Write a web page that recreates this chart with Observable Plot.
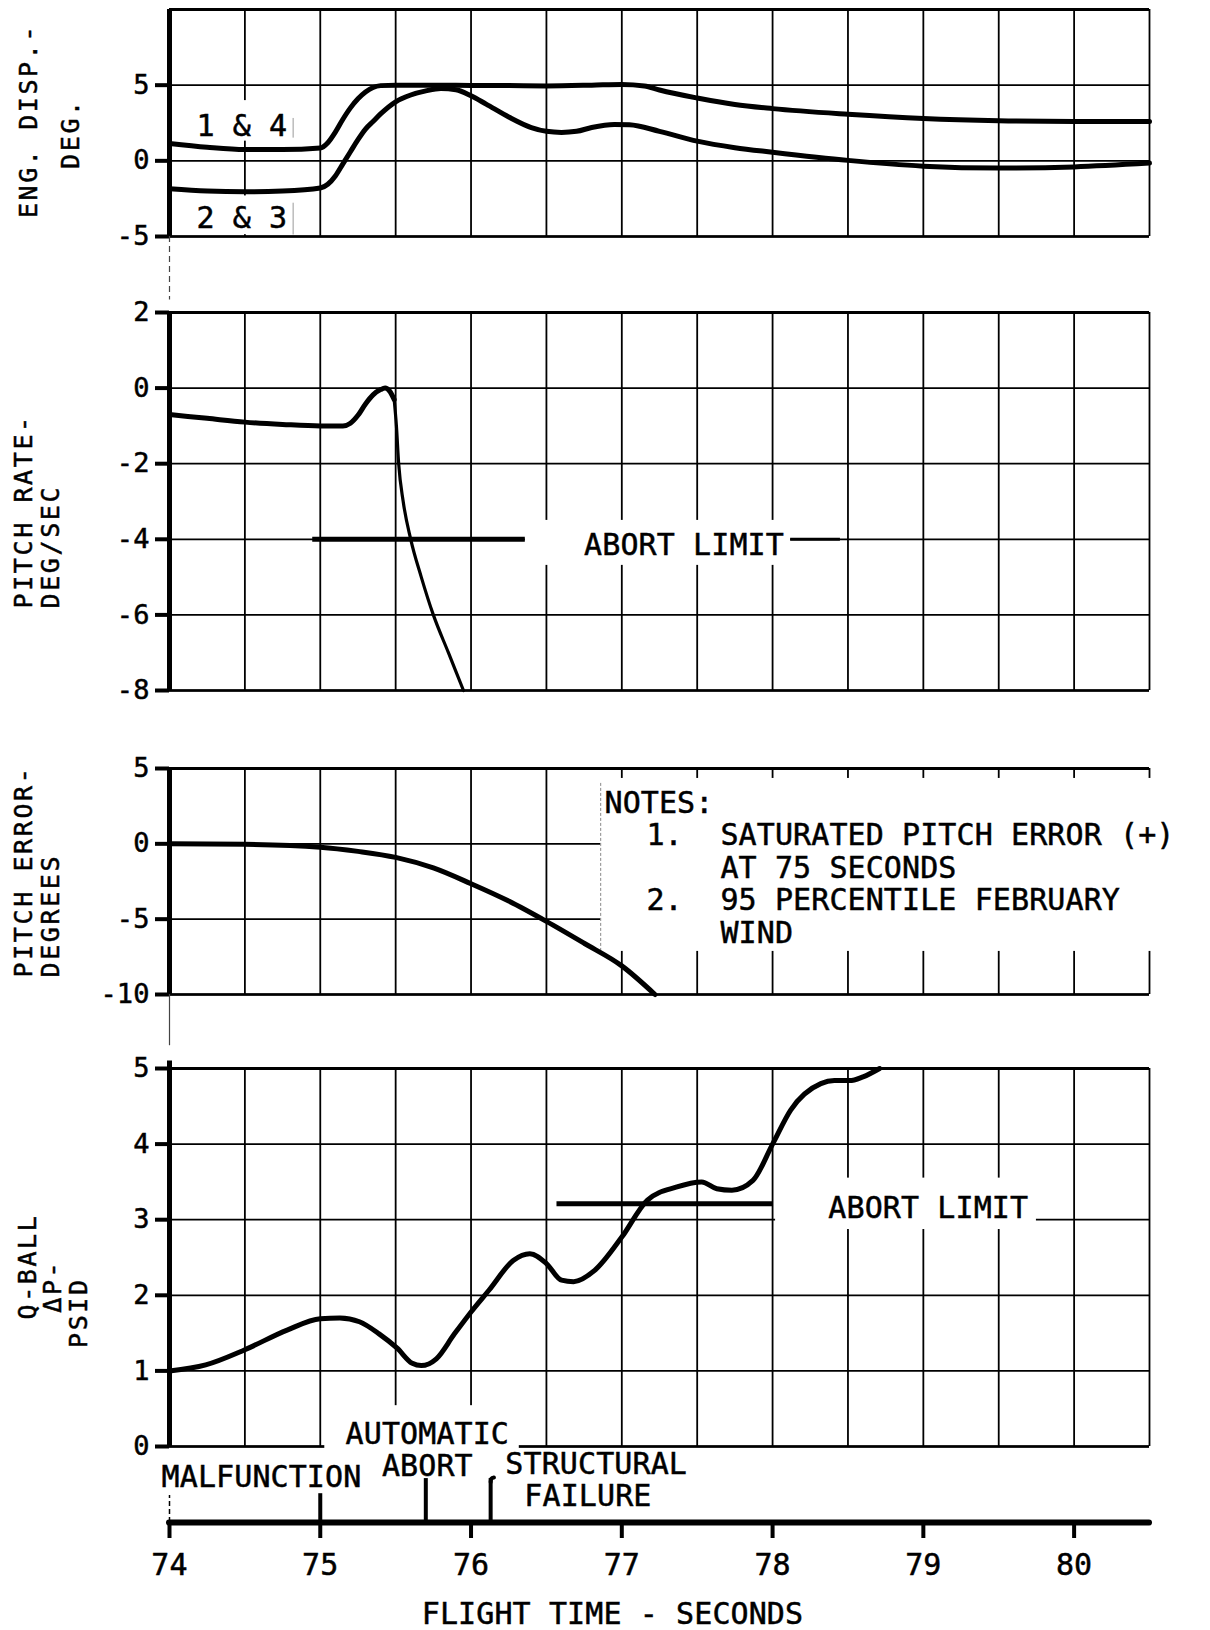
<!DOCTYPE html>
<html>
<head>
<meta charset="utf-8">
<title>Malfunction time history</title>
<script src="https://cdn.jsdelivr.net/npm/d3@7"></script>
<script src="https://cdn.jsdelivr.net/npm/@observablehq/plot@0.6"></script>
<style>
  html, body { margin: 0; padding: 0; background: #fff; }
  #chart { position: relative; width: 1210px; height: 1630px; background: #fff; overflow: hidden; }
  #chart svg { position: absolute; left: 0; max-width: none; }
  #chart text { stroke: #000; stroke-width: 0.5px; }
</style>
</head>
<body>
<div id="chart"></div>
<script>
// ---------------- shared time axis ----------------
const timeGrid = [74, 74.5, 75, 75.5, 76, 76.5, 77, 77.5, 78, 78.5, 79, 79.5, 80, 80.5];
const timeTicks = [74, 75, 76, 77, 78, 79, 80];
const timeTitle = "FLIGHT TIME - SECONDS";

// ---------------- panel 1: engine displacement ----------------
const engTitle = ["ENG. DISP.-", "DEG."];
const engTicks = [5, 0, -5];
const engGrid = [10, 5, 0, -5];
const eng14Time = [74.0, 74.25, 74.5, 74.75, 75.0, 75.05, 75.1, 75.15, 75.2, 75.25, 75.3, 75.35, 75.4, 75.5, 75.75, 76.0, 76.25, 76.5, 76.8, 77.0, 77.15, 77.25, 77.5, 77.75, 78.0, 78.5, 79.0, 79.5, 80.0, 80.5];
const eng14Deg  = [1.15, 0.9, 0.75, 0.75, 0.85, 1.2, 1.9, 2.75, 3.5, 4.1, 4.55, 4.85, 4.97, 5.0, 5.0, 4.98, 4.97, 4.95, 5.0, 5.05, 4.95, 4.68, 4.15, 3.72, 3.45, 3.08, 2.8, 2.65, 2.6, 2.6];
const eng23Time = [74.0, 74.25, 74.5, 74.75, 75.0, 75.05, 75.1, 75.15, 75.2, 75.25, 75.3, 75.35, 75.4, 75.5, 75.6, 75.7, 75.8, 75.9, 76.0, 76.1, 76.25, 76.4, 76.5, 76.6, 76.7, 76.8, 76.95, 77.05, 77.25, 77.5, 77.75, 78.0, 78.5, 79.0, 79.5, 80.0, 80.5];
const eng23Deg  = [-1.85, -2.0, -2.05, -2.0, -1.8, -1.55, -1.0, -0.2, 0.6, 1.4, 2.1, 2.6, 3.1, 3.9, 4.35, 4.62, 4.78, 4.7, 4.3, 3.75, 2.9, 2.2, 1.95, 1.88, 1.95, 2.2, 2.4, 2.38, 1.95, 1.3, 0.87, 0.57, 0.03, -0.35, -0.48, -0.4, -0.15];
const engSeriesNames = ["1 & 4", "2 & 3"];

// ---------------- panel 2: pitch rate ----------------
const rateTitle = ["PITCH RATE-", "DEG/SEC"];
const rateTicks = [2, 0, -2, -4, -6, -8];
const rateTime = [74.0, 74.25, 74.5, 74.75, 75.0, 75.15, 75.2, 75.25, 75.3, 75.35, 75.4, 75.43, 75.46, 75.49, 75.505, 75.52, 75.55, 75.6, 75.67, 75.75, 75.85, 75.95];
const rateDeg  = [-0.7, -0.8, -0.9, -0.96, -1.0, -1.0, -0.93, -0.72, -0.42, -0.18, -0.04, 0.0, -0.08, -0.3, -1.0, -2.0, -3.0, -4.0, -5.0, -6.0, -7.0, -8.0];
const rateAbortLimit = -4;
const rateAbortFrom = 74.95;
const rateAbortTo = 76.36;
const abortLabel = "ABORT LIMIT";

// ---------------- panel 3: pitch error ----------------
const errTitle = ["PITCH ERROR-", "DEGREES"];
const errTicks = [5, 0, -5, -10];
const errTime = [74.0, 74.5, 75.0, 75.25, 75.5, 75.75, 76.0, 76.25, 76.5, 76.75, 77.0, 77.22];
const errDeg  = [0.0, -0.03, -0.22, -0.5, -0.9, -1.6, -2.65, -3.8, -5.15, -6.6, -8.1, -10.0];
const notesHead = "NOTES:";
const noteNumbers = ["1.", "2."];
const noteLines = ["SATURATED PITCH ERROR (+)", "AT 75 SECONDS", "95 PERCENTILE FEBRUARY", "WIND"];

// ---------------- panel 4: Q-ball delta P ----------------
const qTitle = ["Q-BALL", "ΔP-", "PSID"];
const qTicks = [5, 4, 3, 2, 1, 0];
const qTime = [74.0, 74.24, 74.5, 74.78, 75.0, 75.13, 75.26, 75.39, 75.51, 75.61, 75.67, 75.77, 75.89, 76.0, 76.12, 76.28, 76.39, 76.5, 76.6, 76.68, 76.82, 77.0, 77.17, 77.36, 77.53, 77.63, 77.73, 77.87, 78.0, 78.12, 78.32, 78.41, 78.51, 78.6, 78.71];
const qPsid = [1.0, 1.08, 1.28, 1.54, 1.69, 1.70, 1.65, 1.49, 1.30, 1.10, 1.07, 1.16, 1.49, 1.78, 2.07, 2.46, 2.55, 2.42, 2.2, 2.18, 2.33, 2.77, 3.26, 3.43, 3.5, 3.41, 3.39, 3.52, 4.0, 4.45, 4.8, 4.84, 4.84, 4.89, 5.0];
const qAbortLimit = 3.21;
const qAbortFrom = 76.57;
const qAbortTo = 78.0;

// ---------------- events ----------------
const eventNames = [["MALFUNCTION"], ["AUTOMATIC", "ABORT"], ["STRUCTURAL", "FAILURE"]];
const eventTime = [75.0, 75.70, 76.13];

// ================= drawing =================
const chart = document.getElementById("chart");
const FONT = "'DejaVu Sans Mono', monospace";
const X = {domain: [74, 80.5], axis: null};
const base = {width: 1210, marginLeft: 169, marginRight: 61};
const sty = (fs) => ({fontFamily: FONT, fontSize: fs + "px", background: "transparent", color: "black", overflow: "visible"});
const rows = (xs, ys) => xs.map((t, i) => ({t, v: ys[i]}));
const GRID = 1.8, CURVE = 5;
const fmt = d => String(d);

function gridMarks(yGrid, yTop, yBottom) {
  return [
    Plot.ruleX(timeGrid, {y1: yBottom, y2: yTop, stroke: "black", strokeWidth: GRID}),
    Plot.ruleY(yGrid, {stroke: "black", strokeWidth: GRID}),
    Plot.ruleY([yTop], {stroke: "black", strokeWidth: 3}),
    Plot.ruleY([yBottom], {stroke: "black", strokeWidth: 2.6})
  ];
}
function leftAxis(ticks, yTop, yBottom) {
  return [
    Plot.ruleX([74], {y1: yBottom, y2: yTop, stroke: "black", strokeWidth: 5}),
    Plot.axisY({ticks, tickSize: 14, tickPadding: 6, strokeWidth: 4, tickFormat: fmt, label: null, fontSize: 27})
  ];
}
function title(text, y, dx, anchor) {
  return Plot.text([text], {text: d => d, y, frameAnchor: "left", dx, rotate: -90, fontSize: 25, textAnchor: anchor || "middle", fill: "black"});
}
function place(svg, top) {
  svg.style.top = top + "px";
  chart.appendChild(svg);
  d3.select(svg).selectAll("text").each(function () {
    const own = this.getAttribute("transform") || "";
    const par = (this.parentNode && this.parentNode.getAttribute && this.parentNode.getAttribute("transform")) || "";
    this.setAttribute("letter-spacing", (own + par).includes("rotate") ? "2.6" : "0.1");
  });
  return svg;
}

// ---- panel 1
const p1 = Plot.plot({
  ...base, height: 245, marginTop: 9, marginBottom: 9, style: sty(27),
  x: X, y: {domain: [-5, 10], label: null},
  marks: [
    ...gridMarks(engGrid, 10, -5),
    Plot.rect([{x1: 74.08, x2: 74.82, y1: 1.3, y2: 3.98}, {x1: 74.08, x2: 74.82, y1: -4.88, y2: -2.32}],
      {x1: "x1", x2: "x2", y1: "y1", y2: "y2", fill: "white"}),
    Plot.ruleX([{y1: 1.5, y2: 2.8}, {y1: -4.9, y2: -2.8}], {x: 74.82, y1: "y1", y2: "y2", stroke: "#999", strokeWidth: 1}),
    Plot.line(rows(eng14Time, eng14Deg), {x: "t", y: "v", curve: "monotone-x", stroke: "black", strokeWidth: CURVE, strokeLinecap: "round", strokeLinejoin: "round"}),
    Plot.line(rows(eng23Time, eng23Deg), {x: "t", y: "v", curve: "monotone-x", stroke: "black", strokeWidth: CURVE, strokeLinecap: "round", strokeLinejoin: "round"}),
    ...leftAxis(engTicks, 10, -5),
    Plot.ruleX([74], {y1: -5, y2: -9.2, stroke: "#444", strokeWidth: 1.2, strokeDasharray: "6,4"}),
    Plot.text(engSeriesNames, {text: d => d, x: 74.48, y: (d, i) => [2.27, -3.81][i], fontSize: 30, fill: "black"}),
    title(engTitle[0], 2.63, -141),
    title(engTitle[1], 1.8, -99)
  ]
});
place(p1, 0);

// ---- panel 2
const rateRows = rows(rateTime, rateDeg);
const p2 = Plot.plot({
  ...base, height: 400, marginTop: 12, marginBottom: 10, style: sty(27),
  x: X, y: {domain: [-8, 2], label: null},
  marks: [
    ...gridMarks(rateTicks, 2, -8),
    Plot.rect([{x1: 76.36, x2: 78.12, y1: -4.69, y2: -3.5}], {x1: "x1", x2: "x2", y1: "y1", y2: "y2", fill: "white"}),
    Plot.ruleY([rateAbortLimit], {x1: rateAbortFrom, x2: rateAbortTo, stroke: "black", strokeWidth: 5}),
    Plot.ruleY([rateAbortLimit], {x1: 78.12, x2: 78.45, stroke: "black", strokeWidth: 3}),
    Plot.line(rateRows.filter(d => d.t <= 75.49), {x: "t", y: "v", curve: "monotone-x", stroke: "black", strokeWidth: CURVE, strokeLinecap: "round", strokeLinejoin: "round"}),
    Plot.line(rateRows.filter(d => d.t >= 75.49), {x: "t", y: "v", curve: "monotone-x", stroke: "black", strokeWidth: 3.2, strokeLinecap: "round", strokeLinejoin: "round"}),
    ...leftAxis(rateTicks, 2, -8),
    Plot.text([abortLabel], {text: d => d, x: 76.75, y: -4.16, textAnchor: "start", fontSize: 30, fill: "black"}),
    title(rateTitle[0], -5.83, -146, "start"),
    title(rateTitle[1], -5.83, -119, "start")
  ]
});
place(p2, 300);

// ---- panel 3
const p3 = Plot.plot({
  ...base, height: 259, marginTop: 23, marginBottom: 10, style: sty(27),
  x: X, y: {domain: [-10, 5], label: null},
  marks: [
    ...gridMarks(errTicks, 5, -10),
    Plot.rect([{x1: 76.86, x2: 80.9, y1: -7.14, y2: 4.34}], {x1: "x1", x2: "x2", y1: "y1", y2: "y2", fill: "white"}),
    Plot.ruleX([76.86], {y1: -7.14, y2: 4.1, stroke: "#888", strokeWidth: 1, strokeDasharray: "3,2"}),
    Plot.line(rows(errTime, errDeg), {x: "t", y: "v", curve: "monotone-x", stroke: "black", strokeWidth: CURVE, strokeLinecap: "round", strokeLinejoin: "round"}),
    ...leftAxis(errTicks, 5, -10),
    Plot.ruleX([74], {y1: -10, y2: -13.4, stroke: "#444", strokeWidth: 1.2}),
    Plot.text([notesHead], {text: d => d, x: 76.885, y: 2.68, textAnchor: "start", fontSize: 30, fill: "black"}),
    Plot.text(noteNumbers, {text: d => d, x: 77.163, y: (d, i) => [0.555, -3.76][i], textAnchor: "start", fontSize: 30, fill: "black"}),
    Plot.text(noteLines, {text: d => d, x: 77.654, y: (d, i) => [0.555, -1.64, -3.76, -5.95][i], textAnchor: "start", fontSize: 30, fill: "black"}),
    title(errTitle[0], -8.87, -146, "start"),
    title(errTitle[1], -8.87, -119, "start")
  ]
});
place(p3, 745);

// ---- panel 4
const p4 = Plot.plot({
  ...base, height: 408, marginTop: 18, marginBottom: 12, style: sty(27),
  x: X, y: {domain: [0, 5], label: null},
  marks: [
    ...gridMarks(qTicks, 5, 0),
    Plot.rect([{x1: 78.02, x2: 79.75, y1: 2.87, y2: 3.55}, {x1: 75.03, x2: 76.32, y1: -0.16, y2: 0.54}],
      {x1: "x1", x2: "x2", y1: "y1", y2: "y2", fill: "white"}),
    Plot.ruleY([qAbortLimit], {x1: qAbortFrom, x2: qAbortTo, stroke: "black", strokeWidth: 5}),
    Plot.line(rows(qTime, qPsid), {x: "t", y: "v", curve: "monotone-x", stroke: "black", strokeWidth: CURVE, strokeLinecap: "round", strokeLinejoin: "round"}),
    ...leftAxis(qTicks, 5.1, 0),
    Plot.text([abortLabel], {text: d => d, x: 78.37, y: 3.155, textAnchor: "start", fontSize: 30, fill: "black"}),
    Plot.text([eventNames[1][0]], {text: d => d, x: 75.71, y: 0.16, fontSize: 30, fill: "black"}),
    title(qTitle[0], 2.38, -142),
    title(qTitle[1], 2.12, -117),
    title(qTitle[2], 1.77, -91)
  ]
});
place(p4, 1050);

// ---- time strip with event markers
const markTop = [0.40, 0.61, 0.61];
const events = eventTime.map((t, i) => ({t, top: markTop[i]}));
const eventText = [
  {text: eventNames[0][0], x: 74.61, y: 0.625},
  {text: eventNames[1][1], x: 75.71, y: 0.78},
  {text: eventNames[2][0], x: 76.83, y: 0.806},
  {text: eventNames[2][1], x: 76.775, y: 0.36}
];
const hook = [{t: eventTime[2], v: 0.56}, {t: eventTime[2] + 0.005, v: 0.61}, {t: eventTime[2] + 0.022, v: 0.625}];
const p5 = Plot.plot({
  ...base, height: 190, marginTop: 10, marginBottom: 108, style: sty(30),
  x: X, y: {domain: [0, 1], axis: null, label: null},
  marks: [
    Plot.ruleX([74], {y1: 0, y2: 0.375, stroke: "black", strokeWidth: 1.5, strokeDasharray: "5,3"}),
    Plot.ruleX(events, {x: "t", y1: 0, y2: "top", stroke: "black", strokeWidth: 4}),
    Plot.line(hook, {x: "t", y: "v", curve: "natural", stroke: "black", strokeWidth: 4, strokeLinecap: "round"}),
    Plot.ruleY([0], {stroke: "black", strokeWidth: 6, strokeLinecap: "round"}),
    Plot.axisX({ticks: timeTicks, tickSize: 16, tickPadding: 15, strokeWidth: 4, tickFormat: fmt, label: null, fontSize: 30}),
    Plot.text(eventText, {text: "text", x: "x", y: "y", fontSize: 30, fill: "black"}),
    Plot.text([timeTitle], {text: d => d, frameAnchor: "bottom", lineAnchor: "middle", dx: -47, dy: 92, fontSize: 30, fill: "black"})
  ]
});
place(p5, 1440);
</script>
</body>
</html>
